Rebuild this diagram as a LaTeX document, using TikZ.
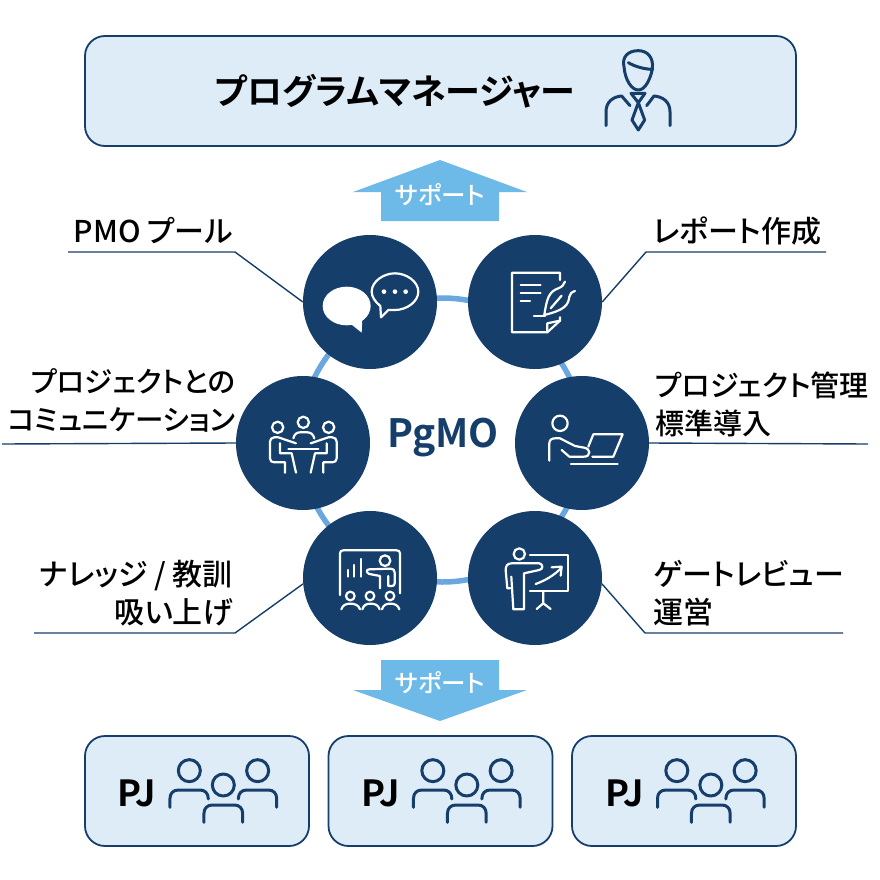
\documentclass[tikz,border=0pt]{standalone}
\usepackage{fontspec}
\newfontfamily\jp[RawFeature=+palt]{Noto Sans CJK JP Medium}
\newfontfamily\jpb[RawFeature=+palt]{Noto Sans CJK JP Bold}
\definecolor{navy}{HTML}{153E6B}
\definecolor{pale}{HTML}{DEECF8}
\definecolor{sky}{HTML}{6DB9E8}
\definecolor{ring}{HTML}{6AA7DE}
\tikzset{
  box/.style={draw=navy,line width=1.8pt,fill=pale,rounded corners=20pt,minimum height=110pt,inner sep=0pt},
  hub/.style={circle,fill=navy,minimum size=134pt,inner sep=0pt},
  leader/.style={draw=navy,line width=1.4pt},
  lab/.style={font=\jp\fontsize{#1}{38}\selectfont,inner sep=0pt,text=black},
  lab/.default=30,
  arrowshape/.style={fill=sky,draw=none},
  wicon/.style={draw=white,line width=2.2pt,line cap=round,line join=round,fill=none},
  nicon/.style={draw=navy,line width=3pt,line cap=round,line join=round,fill=none},
  zoomat/.style={shift={#1},x=.3333pt,y=-.3333pt},
}
\newcommand{\pjicon}[1]{%
 \begin{scope}[zoomat={(#1,730)},nicon]
  \draw (328,122) circle (33) (533,122) circle (33) (430,165) circle (33);
  \draw (270,232)--(270,205) .. controls (270,190) and (280,180) .. (295,180)--(360,180) .. controls (375,180) and (385,190) .. (385,207);
  \draw (475,207) .. controls (475,190) and (485,180) .. (500,180)--(565,180) .. controls (580,180) and (590,190) .. (590,205)--(590,232);
  \draw (372,277)--(372,250) .. controls (372,235) and (382,225) .. (397,225)--(463,225) .. controls (478,225) and (488,235) .. (488,250)--(488,277);
 \end{scope}}
\begin{document}
\begin{tikzpicture}[x=1pt,y=-1pt]
\useasboundingbox (0,0) rectangle (880,880);
% ring
\draw[ring,line width=5.5pt] (442,440) circle (142);
% boxes
\node[box,minimum width=711pt] (pm) at (440.5,91) {};
\node[box,minimum width=224pt] (pj1) at (197,791) {};
\node[box,minimum width=224pt] (pj2) at (440.5,791) {};
\node[box,minimum width=224pt] (pj3) at (684,791) {};
\node[anchor=center,font=\jpb\fontsize{35}{35}\selectfont,inner sep=0pt] (pmt) at (395,91) {プログラムマネージャー};
\node[font=\jpb\fontsize{36}{36}\selectfont,inner sep=0pt] (pjt1) at (137,793) {PJ};
\node[font=\jpb\fontsize{36}{36}\selectfont,inner sep=0pt] (pjt2) at (380.5,793) {PJ};
\node[font=\jpb\fontsize{36}{36}\selectfont,inner sep=0pt] (pjt3) at (624.5,793) {PJ};
% arrows
\fill[arrowshape] (440,160)--(527,192)--(499,192)--(499,221)--(381,221)--(381,192)--(353,192)--cycle;
\fill[arrowshape] (381,660)--(499,660)--(499,690)--(527,690)--(440,721)--(353,690)--(381,690)--cycle;
\node[font=\jp\fontsize{24.5}{24.5}\selectfont,text=white,inner sep=0pt] (s1) at (440,195) {サポート};
\node[font=\jp\fontsize{24.5}{24.5}\selectfont,text=white,inner sep=0pt] (s2) at (440,683) {サポート};
% hubs
\node[hub] (n1) at (370,302) {};
\node[hub] (n2) at (535,302) {};
\node[hub] (n3) at (303,443) {};
\node[hub] (n4) at (582,443) {};
\node[hub] (n5) at (370,578) {};
\node[hub] (n6) at (535,578) {};
% leaders
\coordinate (l1a) at (68,252); \coordinate (l1b) at (235,252);
\coordinate (l2a) at (826,252); \coordinate (l2b) at (646,252);
\coordinate (l3a) at (2,444);
\coordinate (l4a) at (868,444);
\coordinate (l5a) at (34,633); \coordinate (l5b) at (235,633);
\coordinate (l6a) at (843,633); \coordinate (l6b) at (645,633);
\draw[leader] (l1a)--(l1b)--(n1.west);
\draw[leader] (l2a)--(l2b)--(n2.east);
\draw[leader] (l3a)--(n3.west);
\draw[leader] (l4a)--(n4.east);
\draw[leader] (l5a)--(l5b)--(n5.185);
\draw[leader] (l6a)--(l6b)--(n6.-5);
\node[font=\jpb\fontsize{39}{39}\selectfont,text=navy,inner sep=0pt] (pg) at (443,438) {PgMO};
% labels
\node[lab,anchor=east] (t1) at (233,231) {PMO プール};
\node[lab,anchor=west] (t2) at (653,231) {レポート作成};
\node[lab=28.5,anchor=east,align=right] (t3) at (236,400) {プロジェクトとの\\コミュニケーション};
\node[lab=29,anchor=west,align=left] (t4) at (655,404) {プロジェクト管理\\標準導入};
\node[lab,anchor=east,align=right] (t5) at (233,593) {ナレッジ / 教訓\\吸い上げ};
\node[lab,anchor=west,align=left] (t6) at (653,593) {ゲートレビュー\\運営};
% manager icon
\begin{scope}[zoomat={(580,40)},nicon]
 \draw (145,68) .. controls (165,80) and (195,88) .. (217,88);
 \draw (217,88) .. controls (222,50) and (200,32) .. (175,32) .. controls (145,32) and (125,50) .. (132,80) .. controls (135,120) and (155,150) .. (175,150) .. controls (195,150) and (210,120) .. (217,88);
 \draw (78,257)--(78,215) .. controls (78,185) and (100,170) .. (125,168)--(150,197);
 \draw (270,257)--(270,215) .. controls (270,185) and (248,170) .. (222,168)--(200,197);
 \draw (153,160)--(195,160)--(175,188)--cycle;
 \draw (175,188)--(156,240)--(175,270)--(194,240)--cycle;
\end{scope}
% chat icon
\begin{scope}[zoomat={(300,230)},wicon]
 \fill[white] (140,228) ellipse [x radius=72,y radius=58];
 \fill[white] (150,280)--(185,308)--(187,265)--cycle;
 \draw (243,262)--(241,228) .. controls (225,215) and (215,200) .. (215,185) .. controls (215,155) and (250,130) .. (285,130) .. controls (320,130) and (355,155) .. (355,185) .. controls (355,215) and (320,240) .. (285,240) .. controls (278,240) and (272,240) .. (265,240)--cycle;
 \fill[white] (252,185) circle (7) (285,185) circle (7) (317,185) circle (7);
\end{scope}
% document icon
\begin{scope}[zoomat={(300,230)},wicon]
 \draw (780,150)--(780,128)--(636,128)--(636,307)--(742,307)--(780,272)--(780,262);
 \draw (780,272)--(742,280)--(742,307);
 \draw (662,165)--(722,165) (662,190)--(722,190) (662,213)--(690,213);
 \draw (702,257)--(735,257);
 \draw (733,255) .. controls (740,210) and (745,185) .. (775,175) .. controls (788,170) and (790,165) .. (795,155);
 \draw (733,255) .. controls (795,240) and (805,225) .. (808,200) .. controls (810,190) and (815,187) .. (825,183);
 \draw (752,235)--(785,197);
\end{scope}
% meeting icon
\begin{scope}[zoomat={(235,375)},wicon]
 \draw (128,157) circle (17) (205,142) circle (17) (281,157) circle (17);
 \draw (175,190) .. controls (178,178) and (185,172) .. (195,172)--(217,172) .. controls (227,172) and (235,178) .. (238,190);
 \draw (160,221)--(250,221);
 \draw (183,205)--(130,187)--(118,187) .. controls (110,187) and (105,193) .. (105,200)--(105,250) .. controls (105,258) and (110,262) .. (118,262)--(150,262)--(150,293);
 \draw (135,205)--(135,235)--(170,235)--(183,293);
 \draw (227,205)--(280,187)--(292,187) .. controls (300,187) and (305,193) .. (305,200)--(305,250) .. controls (305,258) and (300,262) .. (292,262)--(265,262)--(265,293);
 \draw (275,205)--(275,235)--(240,235)--(227,293);
\end{scope}
% laptop icon
\begin{scope}[zoomat={(510,375)},wicon]
 \draw (150,145) circle (23);
 \draw (118,257)--(118,205) .. controls (118,195) and (125,190) .. (135,190)--(150,190)--(195,213)--(222,218) .. controls (232,220) and (238,225) .. (238,232) .. controls (238,240) and (232,245) .. (222,245)--(178,245)--(155,225);
 \draw (247,245)--(310,245)--(338,178)--(250,178)--(235,215);
 \draw (183,268)--(323,268);
\end{scope}
% presentation icon
\begin{scope}[zoomat={(300,510)},wicon]
 \draw (120,255)--(120,130) .. controls (120,124) and (124,121) .. (130,121)--(290,121) .. controls (296,121) and (300,124) .. (300,130)--(300,250);
 \draw (143,180)--(143,200) (163,165)--(163,200) (184,147)--(184,200);
 \draw (255,152) circle (16);
 \draw (240,235)--(240,198)--(208,192) .. controls (198,188) and (198,178) .. (208,178)--(272,176) .. controls (280,176) and (284,180) .. (284,188)--(284,220) .. controls (284,226) and (280,228) .. (275,228)--(265,228)--(265,198);
 \draw (151,258) circle (13) (210,258) circle (13) (270,258) circle (13);
 \draw (124,298) .. controls (128,285) and (138,281) .. (151,281) .. controls (164,281) and (176,285) .. (180,298);
 \draw (187,298) .. controls (191,285) and (199,281) .. (212,281) .. controls (225,281) and (235,285) .. (239,298);
 \draw (246,298) .. controls (250,285) and (258,281) .. (271,281) .. controls (284,281) and (294,285) .. (298,298);
\end{scope}
% trainer icon
\begin{scope}[zoomat={(300,510)},wicon]
 \draw (658,132) circle (17);
 \draw (690,135)--(805,135)--(805,243)--(690,243);
 \draw (707,222) .. controls (735,212) and (765,195) .. (785,172);
 \draw (755,172)--(785,170)--(782,197);
 \draw (730,243)--(730,280)--(710,297) (730,280)--(752,297);
 \draw (630,235)--(622,235)--(617,180) .. controls (617,168) and (622,160) .. (635,160)--(718,160) .. controls (730,162) and (730,178) .. (718,180)--(672,190)--(672,298)--(640,298)--(634,200);
\end{scope}
\pjicon{80}
\pjicon{323.5}
\pjicon{567.5}
\end{tikzpicture}
\end{document}
